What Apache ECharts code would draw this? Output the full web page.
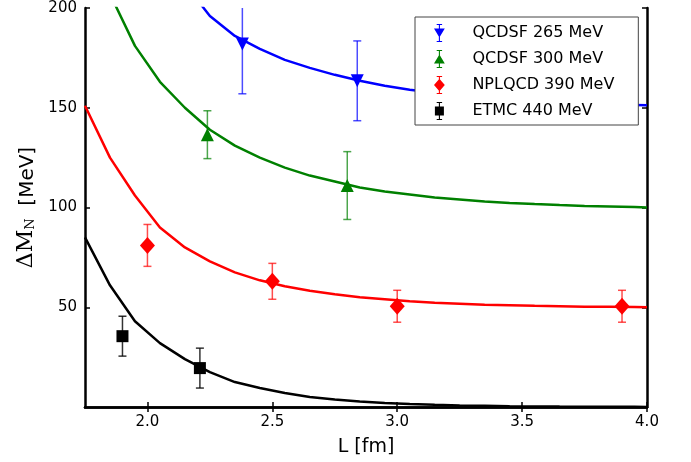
<!DOCTYPE html>
<html>
<head>
<meta charset="utf-8">
<script src="https://cdn.jsdelivr.net/npm/echarts@6/dist/echarts.min.js"></script>
<style>
  html, body { margin: 0; padding: 0; background: #fff; }
  #chart { width: 691px; height: 462px; }
</style>
</head>
<body>
<div id="chart"></div>
<script>
const curveL = [1.75, 1.85, 1.95, 2.05, 2.15, 2.25, 2.35, 2.45, 2.55, 2.65, 2.75, 2.85, 2.95, 3.05, 3.15, 3.25, 3.35, 3.45, 3.55, 3.65, 3.75, 3.85, 3.95, 4.0];
const curve265 = [300, 270, 245, 226, 212, 196, 186, 179.5, 174, 170, 166.5, 163.5, 161, 159, 157.5, 156, 155, 154, 153.3, 152.7, 152.2, 151.8, 151.4, 151.2];
const curve300 = [245, 207, 181, 163, 150, 139, 131, 125, 120, 116, 113, 110, 108, 106.5, 105, 104, 103, 102.3, 101.7, 101.2, 100.8, 100.5, 100.2, 100];
const curve390 = [151, 125, 106, 90, 80, 73, 67.5, 63.5, 60.5, 58.3, 56.5, 55, 54, 53, 52.3, 51.8, 51.3, 51, 50.7, 50.5, 50.3, 50.2, 50.1, 50];
const curve440 = [85, 61, 43, 32, 24, 17.5, 12.5, 9.5, 7, 5, 3.8, 2.8, 2, 1.5, 1.1, 0.8, 0.6, 0.4, 0.3, 0.2, 0.15, 0.1, 0.08, 0.05];

// lattice points: [L, value, error]
const pts265 = [[2.38, 182, 25], [2.84, 163.5, 20]];
const pts300 = [[2.24, 136.5, 12], [2.80, 111, 17]];
const pts390 = [[2.0, 81, 10.5], [2.5, 63, 9], [3.0, 50.5, 8], [3.9, 50.5, 8]];
const pts440 = [[1.9, 35.5, 10], [2.21, 19.5, 10]];

const seriesNames = ['QCDSF 265 MeV', 'QCDSF 300 MeV', 'NPLQCD 390 MeV', 'ETMC 440 MeV'];
const xTicks = [2.0, 2.5, 3.0, 3.5, 4.0];
const yTicks = [50, 100, 150, 200];

const colors = ['#0000ff', '#008000', '#ff0000', '#000000'];
const barColors = ['rgba(0,0,255,0.7)', 'rgba(0,128,0,0.7)', 'rgba(255,0,0,0.7)', 'rgba(0,0,0,0.8)'];
const symbols = ['triangle', 'triangle', 'diamond', 'rect'];
const rotates = [180, 0, 0, 0];
const sizes = [[13, 13], [13, 13], [15, 17], [12, 12]];
const curves = [curve265, curve300, curve390, curve440];
const points = [pts265, pts300, pts390, pts440];

// legend icons: marker plus error bar
const bar = 'M3,0h6v1.2h-6z M5.4,0h1.2v20h-1.2z M3,18.8h6v1.2h-6z ';
const legendIcons = [
  'path://' + bar + 'M0,5h12l-6,10z',
  'path://' + bar + 'M6,5l6,10h-12z',
  'path://' + bar + 'M6,3l6,7l-6,7l-6,-7z',
  'path://' + bar + 'M1,5h10v10h-10z'
];

const font = 'DejaVu Sans';

const errorBarSeries = (idx) => ({
  type: 'custom',
  clip: true,
  silent: true,
  z: 3,
  data: points[idx].map(p => [p[0], p[1] - p[2], p[1] + p[2]]),
  renderItem: (params, api) => {
    const lo = api.coord([api.value(0), api.value(1)]);
    const hi = api.coord([api.value(0), api.value(2)]);
    const cap = 4;
    const style = {stroke: barColors[idx], lineWidth: 1.5};
    return {
      type: 'group',
      children: [
        {type: 'line', shape: {x1: lo[0], y1: lo[1], x2: hi[0], y2: hi[1]}, style},
        {type: 'line', shape: {x1: lo[0] - cap, y1: lo[1], x2: lo[0] + cap, y2: lo[1]}, style},
        {type: 'line', shape: {x1: hi[0] - cap, y1: hi[1], x2: hi[0] + cap, y2: hi[1]}, style}
      ]
    };
  }
});

const series = [];
seriesNames.forEach((name, i) => {
  series.push({
    type: 'line',
    data: curveL.map((l, k) => [l, curves[i][k]]),
    showSymbol: false,
    symbol: 'none',
    silent: true,
    clip: true,
    z: 2,
    lineStyle: {color: colors[i], width: 2.5}
  });
  series.push(errorBarSeries(i));
  series.push({
    name,
    type: 'scatter',
    data: points[i].map(p => [p[0], p[1]]),
    symbol: symbols[i],
    symbolRotate: rotates[i],
    symbolSize: sizes[i],
    itemStyle: {color: colors[i], opacity: 1},
    z: 4
  });
});

const frameLine = {show: true, lineStyle: {color: '#000', width: 2.5}};
const innerTick = (values) => ({
  show: true, inside: true, length: 5, customValues: values,
  lineStyle: {color: '#000', width: 1.5}
});

const myChart = echarts.init(document.getElementById('chart'));
myChart.setOption({
  animation: false,
  backgroundColor: '#fff',
  grid: {left: 85, right: 44, top: 8, bottom: 55, containLabel: false},
  legend: {
    orient: 'vertical',
    left: 415,
    top: 17,
    data: seriesNames.map((n, i) => ({name: n, icon: legendIcons[i]})),
    itemWidth: 12,
    itemHeight: 18,
    itemGap: 8,
    padding: [7, 24, 5, 19],
    backgroundColor: '#fff',
    borderColor: '#444',
    borderWidth: 1,
    borderRadius: 0,
    z: 10,
    textStyle: {fontFamily: font, fontSize: 16, color: '#000', padding: [0, 0, 0, 22]}
  },
  xAxis: [
    {
      type: 'value',
      min: 1.75,
      max: 4.0,
      position: 'bottom',
      name: 'L [fm]',
      nameLocation: 'middle',
      nameGap: 31,
      nameTextStyle: {fontFamily: font, fontSize: 19, color: '#000'},
      axisLine: frameLine,
      axisTick: innerTick(xTicks),
      axisLabel: {
        customValues: xTicks, margin: 8, color: '#000',
        fontFamily: font, fontSize: 15,
        formatter: v => v.toFixed(1)
      },
      splitLine: {show: false}
    },
    {
      type: 'value',
      min: 1.75,
      max: 4.0,
      position: 'top',
      axisLine: frameLine,
      axisTick: innerTick(xTicks),
      axisLabel: {show: false},
      splitLine: {show: false}
    }
  ],
  yAxis: [
    {
      type: 'value',
      min: 0,
      max: 200,
      position: 'left',
      name: '{a|ΔM}{b|N}{c|  [MeV]}',
      nameLocation: 'middle',
      nameGap: 46,
      nameTextStyle: {
        color: '#000',
        rich: {
          a: {fontFamily: 'DejaVu Serif', fontSize: 22, color: '#000', verticalAlign: 'bottom', lineHeight: 26},
          b: {fontFamily: 'DejaVu Serif', fontSize: 13, color: '#000', verticalAlign: 'bottom', lineHeight: 18},
          c: {fontFamily: font, fontSize: 20, color: '#000', verticalAlign: 'bottom', lineHeight: 26}
        }
      },
      axisLine: frameLine,
      axisTick: innerTick(yTicks),
      axisLabel: {
        customValues: yTicks, margin: 8, color: '#000',
        fontFamily: font, fontSize: 15
      },
      splitLine: {show: false}
    },
    {
      type: 'value',
      min: 0,
      max: 200,
      position: 'right',
      axisLine: frameLine,
      axisTick: innerTick(yTicks),
      axisLabel: {show: false},
      splitLine: {show: false}
    }
  ],
  series
});
</script>
</body>
</html>
